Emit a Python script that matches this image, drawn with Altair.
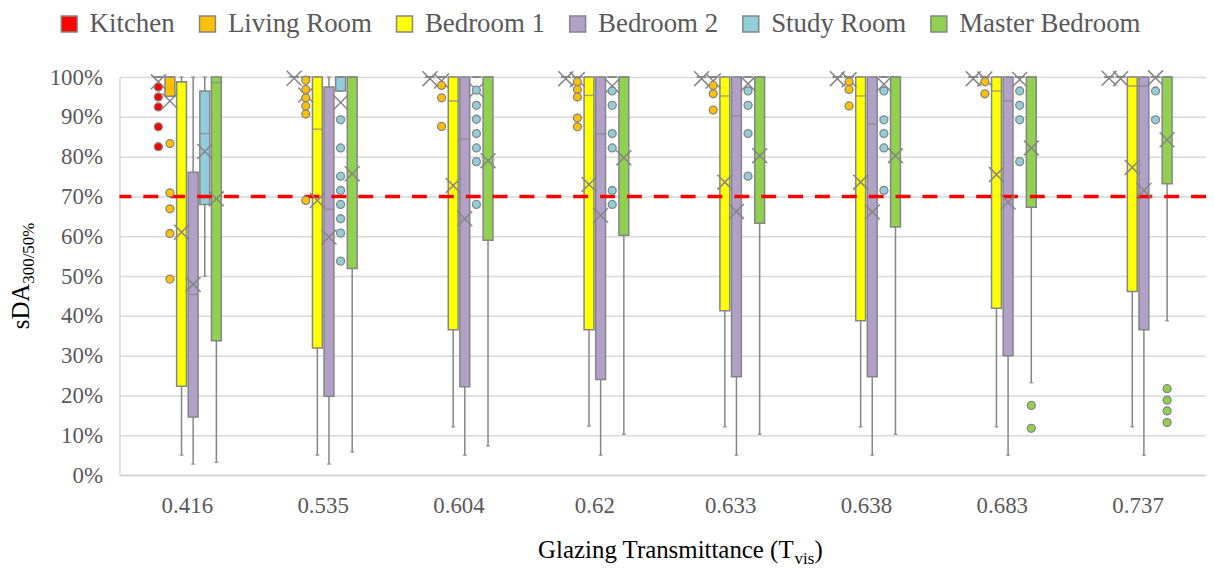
import altair as alt
import pandas as pd

GROUPS = ["0.416", "0.535", "0.604", "0.62", "0.633", "0.638", "0.683", "0.737"]
SERIES = ["Kitchen", "Living Room", "Bedroom 1", "Bedroom 2", "Study Room", "Master Bedroom"]
COLORS = ["#FF0000", "#FFC000", "#FFFF00", "#B1A0C7", "#92CDDC", "#92D050"]
THRESHOLD = [70]

LOW = {
    "Kitchen": [100, 100, 100, 100, 100, 100, 100, 100],
    "Living Room": [95.2, 100, 100, 100, 100, 100, 100, 100],
    "Bedroom 1": [5, 5, 12.1, 12.3, 12.1, 12.1, 12.1, 12.1],
    "Bedroom 2": [2.75, 2.75, 5, 5, 5, 5, 5, 5],
    "Study Room": [50, 96.5, 100, 100, 100, 100, 100, 100],
    "Master Bedroom": [3.2, 5.8, 7.3, 10.25, 10.25, 10.25, 23.2, 38.75],
}
Q1 = {
    "Kitchen": [100, 100, 100, 100, 100, 100, 100, 100],
    "Living Room": [95.2, 100, 100, 100, 100, 100, 100, 100],
    "Bedroom 1": [22.3, 31.9, 36.5, 36.5, 41.3, 38.8, 41.9, 46.1],
    "Bedroom 2": [14.6, 19.8, 22.2, 24, 24.7, 24.7, 30, 36.5],
    "Study Room": [68, 96.5, 100, 100, 100, 100, 100, 100],
    "Master Bedroom": [33.75, 51.9, 59, 60.25, 63.3, 62.3, 67.3, 73.2],
}
MEDIAN = {
    "Kitchen": [100, 100, 100, 100, 100, 100, 100, 100],
    "Living Room": [100, 100, 100, 100, 100, 100, 100, 100],
    "Bedroom 1": [98.8, 86.9, 94, 95.4, 95.25, 95.25, 96.5, 97.75],
    "Bedroom 2": [45.4, 66.75, 84.4, 85.7, 90.25, 88.2, 94, 97.75],
    "Study Room": [85.8, 100, 100, 100, 100, 100, 100, 100],
    "Master Bedroom": [98.6, 100, 100, 100, 100, 100, 100, 100],
}
Q3 = {
    "Kitchen": [100, 100, 100, 100, 100, 100, 100, 100],
    "Living Room": [100, 100, 100, 100, 100, 100, 100, 100],
    "Bedroom 1": [98.8, 100, 100, 100, 100, 100, 100, 100],
    "Bedroom 2": [76.1, 97.5, 100, 100, 100, 100, 100, 100],
    "Study Room": [96.5, 100, 100, 100, 100, 100, 100, 100],
    "Master Bedroom": [100, 100, 100, 100, 100, 100, 100, 100],
}
HIGH = {
    "Kitchen": [100, 100, 100, 100, 100, 100, 100, 100],
    "Living Room": [100, 100, 100, 100, 100, 100, 100, 100],
    "Bedroom 1": [100, 100, 100, 100, 100, 100, 100, 100],
    "Bedroom 2": [100, 100, 100, 100, 100, 100, 100, 100],
    "Study Room": [100, 100, 100, 100, 100, 100, 100, 100],
    "Master Bedroom": [100, 100, 100, 100, 100, 100, 100, 100],
}
MEAN = {
    "Kitchen": [98.8, 99.7, 99.6, 99.6, 99.6, 99.6, 99.6, 99.7],
    "Living Room": [94, 95.5, 99, 99.4, 99, 99.3, 99.5, 99.6],
    "Bedroom 1": [61, 69, 72.75, 73, 73.6, 73.6, 75.5, 77.3],
    "Bedroom 2": [47.9, 59.8, 64.4, 65.25, 66.25, 66.1, 68.6, 71.5],
    "Study Room": [81.3, 93.6, 96.7, 97.75, 98.3, 98.2, 99.4, 99.8],
    "Master Bedroom": [69.4, 75.7, 79, 79.7, 80.25, 80.25, 82.2, 84.25],
}
OUTLIERS = {
    "Kitchen": [[97.5, 95, 92.5, 87.5, 82.5], [], [], [], [], [], [], []],
    "Living Room": [[83.3, 70.9, 66.9, 60.7, 49.25], [99.2, 96.9, 94.8, 92.75, 90.7, 69],
                    [97.9, 94.8, 87.6], [98.8, 96.9, 95, 89.7, 87.5], [97.9, 95.8, 91.7],
                    [98.8, 96.9, 92.75], [98.8, 95.8], []],
    "Bedroom 1": [[], [], [], [], [], [], [], []],
    "Bedroom 2": [[], [], [], [], [], [], [], []],
    "Study Room": [[], [89.25, 82.2, 75.1, 71.5, 68, 64.4, 60.8, 53.75],
                   [96.7, 92.9, 89.4, 85.8, 82.2, 78.75, 68], [96.5, 92.9, 85.8, 82.2, 71.5, 68],
                   [96.5, 92.9, 85.8, 75.1], [96.5, 89.25, 85.8, 82.2, 71.5],
                   [96.5, 92.9, 89.25, 78.75], [96.5, 89.25]],
    "Master Bedroom": [[], [], [], [], [], [], [17.5, 11.75], [21.7, 18.8, 16.1, 13.2]],
}

X_TITLE = ["Glazing Transmittance (T", "vis", ")"]
Y_TITLE = ["sDA", "300/50%"]

# ---- tables ----
rows = []
for s in SERIES:
    for i, g in enumerate(GROUPS):
        rows.append(dict(group=g, series=s, low=LOW[s][i], q1=Q1[s][i], median=MEDIAN[s][i],
                         q3=Q3[s][i], high=HIGH[s][i], mean=MEAN[s][i]))
box_df = pd.DataFrame(rows)

orows = []
for s in SERIES:
    for i, g in enumerate(GROUPS):
        for v in OUTLIERS[s][i]:
            orows.append(dict(group=g, series=s, value=v))
out_df = pd.DataFrame(orows)

FONT = "'Liberation Serif', 'Times New Roman', serif"
GRAY = "#858585"
LABEL = "#595959"

X_AXIS = alt.Axis(labelAngle=0, labelFont=FONT, labelFontSize=23, labelColor=LABEL,
                  labelPadding=20, ticks=False, domainColor="#D0D0D0", domainWidth=1.5,
                  grid=False)
Y_AXIS = alt.Axis(values=list(range(0, 101, 10)), labelExpr="datum.value + '%'",
                  labelFont=FONT, labelFontSize=23, labelColor=LABEL, labelPadding=17,
                  ticks=False, domainColor="#D9D9D9", domainWidth=1.5,
                  grid=True, gridColor="#D9D9D9", gridWidth=1.5)

x_enc = alt.X("group:N", sort=GROUPS, title=None, axis=X_AXIS,
              scale=alt.Scale(domain=GROUPS, paddingInner=0.487, paddingOuter=0.2435))
xo_enc = alt.XOffset("series:N", sort=SERIES,
                     scale=alt.Scale(domain=SERIES, paddingInner=0.15, paddingOuter=0.075))
Y_SCALE = alt.Scale(domain=[0, 100], nice=False)


def yenc(field):
    return alt.Y(field, title=None, axis=Y_AXIS, scale=Y_SCALE)


base = alt.Chart(box_df)

whisker = base.mark_rule(color=GRAY, strokeWidth=1.5).encode(
    x=x_enc, xOffset=xo_enc, y=yenc("low:Q"), y2="high:Q")
cap_low = base.mark_tick(color=GRAY, size=4, thickness=1.5).encode(
    x=x_enc, xOffset=xo_enc, y=yenc("low:Q"))
cap_high = base.mark_tick(color=GRAY, size=4, thickness=1.5).encode(
    x=x_enc, xOffset=xo_enc, y=yenc("high:Q"))

boxes = base.mark_bar(stroke=GRAY, strokeWidth=1.5, opacity=1).encode(
    x=x_enc, xOffset=xo_enc, y=yenc("q1:Q"), y2="q3:Q",
    color=alt.Color("series:N", sort=SERIES,
                    scale=alt.Scale(domain=SERIES, range=COLORS),
                    legend=alt.Legend(title=None, orient="none", legendX=-64, legendY=-67,
                                      direction="horizontal", symbolType="square",
                                      symbolSize=256, symbolStrokeColor=GRAY,
                                      symbolStrokeWidth=1.5, labelFont=FONT,
                                      labelFontSize=27, labelColor=LABEL, labelOffset=7,
                                      labelLimit=400, columnPadding=19, padding=0)))

medians = base.mark_tick(color=GRAY, size=10, thickness=1.5).encode(
    x=x_enc, xOffset=xo_enc, y=yenc("median:Q"))

threshold = alt.Chart(pd.DataFrame({"t": THRESHOLD})).mark_rule(
    color="#FF0000", strokeWidth=3.5, strokeDash=[15, 12]).encode(y=yenc("t:Q"))

XPATH = "M-1,-1L1,1M-1,1L1,-1"
means = base.mark_point(shape=XPATH, size=225, color=GRAY, strokeWidth=1.5,
                        filled=False, opacity=1).encode(
    x=x_enc, xOffset=xo_enc, y=yenc("mean:Q"))

outliers = alt.Chart(out_df).mark_point(shape="circle", filled=True, size=64, stroke=GRAY,
                                        strokeWidth=1.3, opacity=1).encode(
    x=x_enc, xOffset=xo_enc, y=yenc("value:Q"),
    color=alt.Color("series:N", sort=SERIES, scale=alt.Scale(domain=SERIES, range=COLORS),
                    legend=None))


def label_layer(text, x, y, size, align, angle=0):
    return alt.Chart(pd.DataFrame({"label": [text]})).mark_text(
        font=FONT, fontSize=size, color="#000000", align=align, baseline="alphabetic",
        angle=angle).encode(x=alt.value(x), y=alt.value(y), text="label:N")


xt_main = label_layer(X_TITLE[0], 677.5, 483, 25, "right")
xt_sub = label_layer(X_TITLE[1], 678.5, 489, 17, "left")
xt_close = label_layer(X_TITLE[2], 698.5, 483, 25, "left")
yt_main = label_layer(Y_TITLE[0], -91, 253.5, 25, "left", angle=270)
yt_sub = label_layer(Y_TITLE[1], -86, 207.7, 17, "left", angle=270)

chart = alt.layer(
    whisker, cap_low, cap_high, boxes, medians, threshold, means, outliers,
    xt_main, xt_sub, xt_close, yt_main, yt_sub
).properties(
    width=1092, height=400,
    autosize=alt.AutoSizeParams(type="none"),
    padding={"left": 112, "top": 68, "right": 0, "bottom": 94},
).configure(
    background="white", font=FONT
).configure_view(
    stroke=None
).configure_axis(
    labelFont=FONT
).configure_legend(
    labelFont=FONT
)

chart.save("out.html", embed_options={"renderer": "svg", "actions": False})
